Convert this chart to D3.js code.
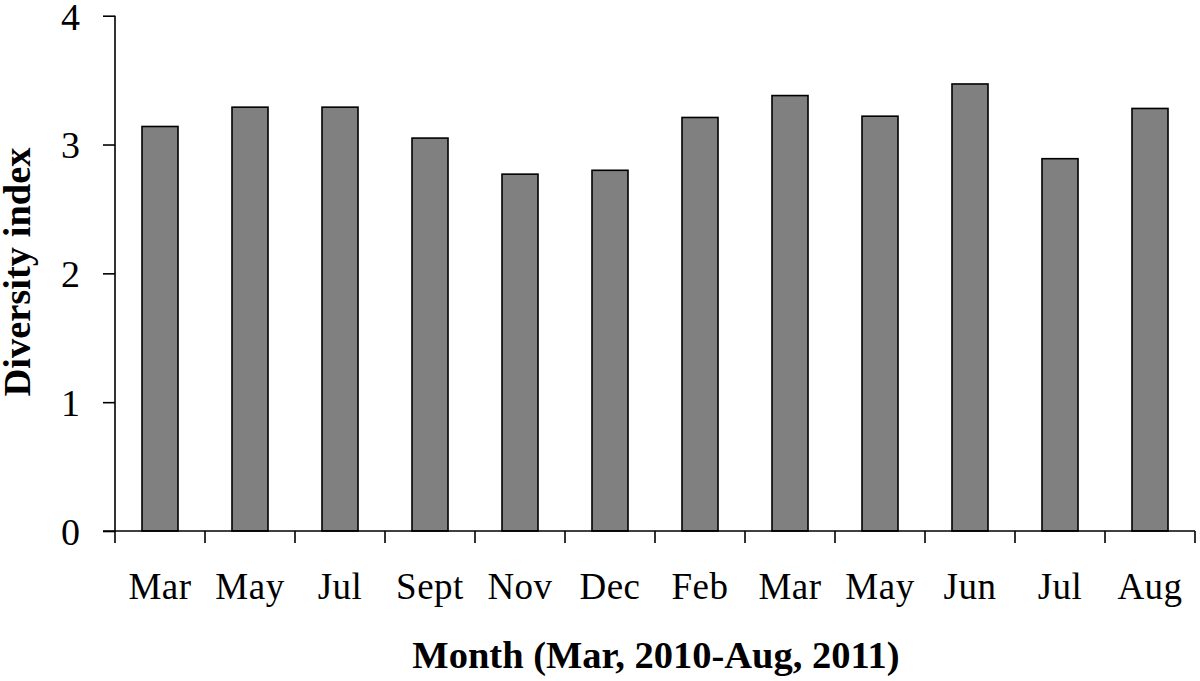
<!DOCTYPE html>
<html><head><meta charset="utf-8">
<script src="https://cdn.jsdelivr.net/npm/d3@7"></script>
<style>body{margin:0;background:#fff}</style>
</head><body>
<svg id="c" width="1200" height="681"></svg>
<script>
const months = ["Mar","May","Jul","Sept","Nov","Dec","Feb","Mar","May","Jun","Jul","Aug"];
const values = [3.14,3.29,3.29,3.05,2.77,2.80,3.21,3.38,3.22,3.47,2.89,3.28];
const yTicks = [0,1,2,3,4];
const xTitle = "Month (Mar, 2010-Aug, 2011)";
const yTitle = "Diversity index";

const svg = d3.select("#c");
const m = {l:115, r:1195, t:15.7, b:531};
const keys = months.map((d,i)=>i);
const x = d3.scaleBand().domain(keys).range([m.l, m.r]).paddingInner(0.6).paddingOuter(0.3);
const y = d3.scaleLinear().domain([0,4]).range([m.b, m.t]);
const font = "'Liberation Serif','Times New Roman',serif";

svg.selectAll("rect.bar").data(values).enter().append("rect")
  .attr("class","bar")
  .attr("x",(d,i)=>x(i)).attr("width",x.bandwidth())
  .attr("y",d=>y(d)).attr("height",d=>y(0)-y(d))
  .attr("fill","#808080").attr("stroke","#000").attr("stroke-width",1.6);

// y axis
const ya = svg.append("g").attr("transform",`translate(${m.l},0)`)
  .call(d3.axisLeft(y).tickValues(yTicks).tickSize(12).tickPadding(23).tickFormat(d3.format("d")));
ya.select(".domain").attr("d",`M0,${m.t}V${m.b}`).attr("stroke-width",1.6);
ya.selectAll(".tick line").attr("stroke-width",1.6);
ya.selectAll("text").attr("font-family",font).attr("font-size",38).attr("fill","#000").attr("dy","0.35em");

// x axis with ticks at band boundaries
const bounds = d3.range(months.length+1).map(i=>m.l + i*(m.r-m.l)/months.length);
const xa = svg.append("g");
xa.append("line").attr("x1",m.l-12).attr("x2",m.r).attr("y1",m.b).attr("y2",m.b).attr("stroke","#000").attr("stroke-width",1.6);
xa.selectAll("line.t").data(bounds).enter().append("line").attr("class","t")
  .attr("x1",d=>d).attr("x2",d=>d).attr("y1",m.b).attr("y2",m.b+12).attr("stroke","#000").attr("stroke-width",1.6);
xa.selectAll("text").data(months).enter().append("text")
  .attr("x",(d,i)=>x(i)+x.bandwidth()/2).attr("y",599)
  .attr("text-anchor","middle").attr("font-family",font).attr("font-size",37).attr("letter-spacing","0.5px").text(d=>d);

svg.append("text").attr("x",656).attr("y",668).attr("text-anchor","middle")
  .attr("font-family",font).attr("font-weight","bold").attr("font-size",38.5).text(xTitle);
svg.append("text").attr("transform","translate(30,272) rotate(-90)").attr("text-anchor","middle")
  .attr("font-family",font).attr("font-weight","bold").attr("font-size",38.5).text(yTitle);
</script>
</body></html>
